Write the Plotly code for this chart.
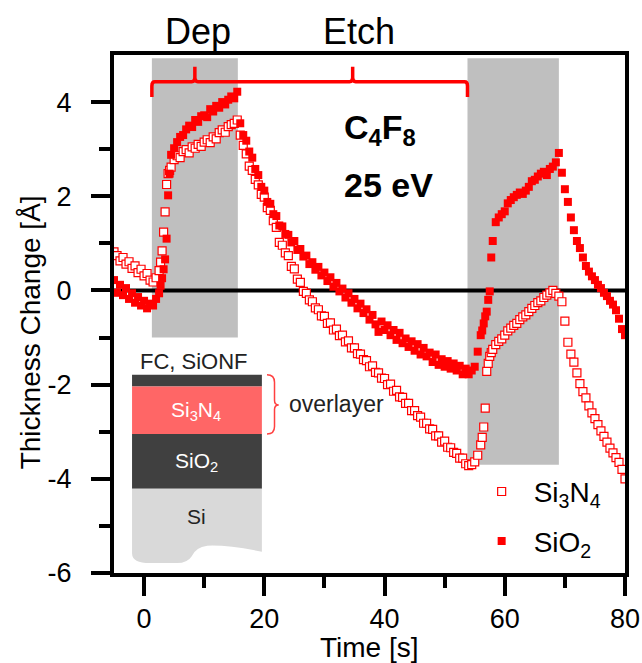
import plotly.graph_objects as go

# ---- measured thickness change vs. time (C4F8, 25 eV ALE cycle) ----
time_s = [
    -5.0, -4.5, -4.0, -3.5, -3.0, -2.5, -2.0, -1.5, -1.0, -0.5, 0.0, 0.5, 1.0,
    1.5, 2.0, 2.5, 2.75, 3.0, 3.25, 3.5, 3.75, 4.0, 4.25, 4.5, 5.0,
    5.5, 6.0, 6.5, 7.0, 7.5, 8.0, 8.5, 9.0, 9.5, 10.0, 10.5, 11.0, 11.5, 12.0,
    12.5, 13.0, 13.5, 14.0, 14.5, 15.0, 15.5,
    16.0, 16.5, 17.0, 17.5, 18.0, 18.5, 19.0, 19.5, 20.0, 20.5,
    21.0, 21.5, 22.0, 22.5, 23.0, 23.5, 24.0, 24.5, 25.0, 25.5,
    26.0, 26.5, 27.0, 27.5, 28.0, 28.5, 29.0, 29.5, 30.0, 30.5,
    31.0, 31.5, 32.0, 32.5, 33.0, 33.5, 34.0, 34.5, 35.0, 35.5,
    36.0, 36.5, 37.0, 37.5, 38.0, 38.5, 39.0, 39.5, 40.0, 40.5,
    41.0, 41.5, 42.0, 42.5, 43.0, 43.5, 44.0, 44.5, 45.0, 45.5,
    46.0, 46.5, 47.0, 47.5, 48.0, 48.5, 49.0, 49.5, 50.0, 50.5,
    51.0, 51.5, 52.0, 52.5, 53.0, 53.5,
    54.0, 54.5, 55.0, 55.5, 56.0, 56.25, 56.5, 56.75, 57.0, 57.25, 57.5, 57.75,
    58.0, 58.5,
    59.0, 59.5, 60.0, 60.5, 61.0, 61.5, 62.0, 62.5, 63.0, 63.5,
    64.0, 64.5, 65.0, 65.5, 66.0, 66.5, 67.0, 67.5, 68.0, 68.5,
    69.0, 69.5, 70.0, 70.5, 71.0, 71.5, 72.0, 72.5, 73.0, 73.5,
    74.0, 74.5, 75.0, 75.5, 76.0, 76.5, 77.0, 77.5, 78.0, 78.5,
    79.0, 79.5, 80.0,
]

si3n4_change = [
    0.82, 0.74, 0.63, 0.70, 0.56, 0.61, 0.47, 0.52, 0.38, 0.45, 0.31, 0.36, 0.22,
    0.18, 0.27, 0.42, 0.60, 0.84, 1.24, 1.67, 2.25, 2.48, 2.55, 2.62, 2.78,
    2.86, 2.82, 2.95, 2.99, 2.92, 3.05, 3.02, 3.10, 3.06, 3.15, 3.20, 3.14, 3.26, 3.22,
    3.35, 3.41, 3.36, 3.48, 3.52, 3.55, 3.62,
    3.30, 3.08, 2.90, 2.64, 2.55, 2.36, 2.24, 2.04, 1.98, 1.76,
    1.70, 1.48, 1.34, 1.02, 0.96, 0.80, 0.74, 0.51, 0.46, 0.24,
    0.17, -0.02, -0.06, -0.20, -0.24, -0.37, -0.41, -0.54, -0.55, -0.70,
    -0.69, -0.84, -0.82, -0.96, -0.95, -1.09, -1.07, -1.22, -1.22, -1.34,
    -1.35, -1.47, -1.49, -1.62, -1.60, -1.74, -1.75, -1.86, -1.87, -2.00,
    -1.99, -2.14, -2.12, -2.26, -2.27, -2.40, -2.40, -2.55, -2.55, -2.66,
    -2.69, -2.82, -2.82, -2.94, -2.95, -3.09, -3.09, -3.22, -3.20, -3.33,
    -3.34, -3.44, -3.46, -3.56, -3.56, -3.68,
    -3.72, -3.70, -3.64, -3.50, -3.28, -3.12, -2.90, -2.50, -1.72, -1.55, -1.40, -1.32,
    -1.25, -1.15,
    -1.08, -1.03, -0.95, -0.86, -0.80, -0.74, -0.70, -0.62, -0.56, -0.52,
    -0.45, -0.38, -0.32, -0.26, -0.22, -0.15, -0.10, -0.05, 0.00, -0.06,
    -0.12, -0.24, -0.65, -1.10, -1.35, -1.52, -1.75, -1.98, -2.15, -2.28,
    -2.45, -2.60, -2.72, -2.85, -2.98, -3.10, -3.22, -3.35, -3.45, -3.55,
    -3.65, -3.80, -4.00,
]

sio2_change = [
    0.22, -0.05, 0.12, -0.10, 0.05, -0.18, -0.06, -0.26, -0.14, -0.32, -0.22, -0.38, -0.28,
    -0.32, -0.18, -0.06, 0.10, 0.26, 0.45, 0.66, 1.10, 2.02, 2.48, 2.88, 3.02,
    3.15, 3.26, 3.30, 3.42, 3.50, 3.47, 3.62, 3.58, 3.70, 3.72, 3.68, 3.85, 3.80, 3.92,
    3.88, 4.00, 3.95, 4.05, 4.12, 4.08, 4.22,
    3.55, 3.30, 3.18, 2.95, 2.82, 2.58, 2.45, 2.20, 2.12, 1.88,
    1.84, 1.62, 1.58, 1.38, 1.36, 1.20, 1.18, 1.02, 1.05, 0.86,
    0.88, 0.72, 0.74, 0.56, 0.60, 0.44, 0.50, 0.32, 0.38, 0.20,
    0.28, 0.08, 0.16, -0.02, 0.04, -0.15, -0.06, -0.26, -0.18, -0.38,
    -0.28, -0.48, -0.40, -0.62, -0.52, -0.72, -0.88, -0.66, -0.84, -0.74,
    -0.95, -0.84, -1.05, -0.90, -1.12, -1.02, -1.20, -1.08, -1.28, -1.14,
    -1.36, -1.22, -1.40, -1.32, -1.52, -1.36, -1.58, -1.46, -1.62, -1.50,
    -1.66, -1.55, -1.70, -1.60, -1.78, -1.66,
    -1.78, -1.70, -1.62, -1.30, -0.95, -0.85, -0.70, -0.55, -0.45, -0.20, -0.02, 0.70,
    1.05, 1.45,
    1.55, 1.62, 1.68, 1.85, 1.92, 1.98, 2.03, 2.08, 2.05, 2.12,
    2.20, 2.32, 2.35, 2.42, 2.48, 2.52, 2.45, 2.58, 2.63, 2.72,
    2.92, 2.50, 2.15, 1.88, 1.55, 1.28, 1.05, 0.90, 0.70, 0.52,
    0.40, 0.30, 0.22, 0.12, 0.05, -0.05, -0.12, -0.22, -0.30, -0.42,
    -0.60, -0.82, -0.95,
]

series_names = ["Si<sub>3</sub>N<sub>4</sub>", "SiO<sub>2</sub>"]
x_ticks = [0, 20, 40, 60, 80]
x_minor = [10, 30, 50, 70]
y_ticks = [-6, -4, -2, 0, 2, 4]
y_tick_text = ["-6", "-4", "-2", "0", "2", "4"]
y_minor = [-5, -3, -1, 1, 3]

# phase boundaries of the cycle [s]
dep_start, dep_end, etch_end, dep2_end = 1.3, 15.6, 53.8, 69.0

FONT = "Liberation Sans, Arial, sans-serif"
RED = "#ff0000"

fig = go.Figure()
fig.add_trace(go.Scatter(
    x=time_s, y=si3n4_change, mode="markers", name=series_names[0],
    legendgroup="a",
    marker=dict(symbol="square", size=8, color="white",
                line=dict(color=RED, width=1.2)),
))
fig.add_trace(go.Scatter(
    x=time_s, y=sio2_change, mode="markers", name=series_names[1],
    legendgroup="b",
    marker=dict(symbol="square", size=8, color=RED, line=dict(width=0)),
))

shapes = []
# shaded deposition windows
shapes.append(dict(type="rect", xref="x", yref="y", x0=dep_start, x1=dep_end,
                   y0=-1.0, y1=4.93, fillcolor="#bfbfbf", line=dict(width=0),
                   layer="below"))
shapes.append(dict(type="rect", xref="x", yref="y", x0=etch_end, x1=dep2_end,
                   y0=-3.7, y1=4.93, fillcolor="#bfbfbf", line=dict(width=0),
                   layer="below"))
# zero reference line
shapes.append(dict(type="line", xref="x", yref="y", x0=-5, x1=80, y0=0, y1=0,
                   line=dict(color="black", width=4), layer="below"))

# brace over one Dep + Etch cycle
mid_dep = (dep_start + dep_end) / 2
mid_etch = (dep_end + etch_end) / 2
yb, yh, yt = 4.43, 4.11, 4.75
rx, ry = 0.5, 0.09
brace = (
    f"M {dep_start},{yh} L {dep_start},{yb - ry} Q {dep_start},{yb} {dep_start + rx},{yb} "
    f"L {mid_dep - rx},{yb} Q {mid_dep},{yb} {mid_dep},{yb + ry} L {mid_dep},{yt} "
    f"L {mid_dep},{yb + ry} Q {mid_dep},{yb} {mid_dep + rx},{yb} "
    f"L {mid_etch - rx},{yb} Q {mid_etch},{yb} {mid_etch},{yb + ry} L {mid_etch},{yt} "
    f"L {mid_etch},{yb + ry} Q {mid_etch},{yb} {mid_etch + rx},{yb} "
    f"L {etch_end - rx},{yb} Q {etch_end},{yb} {etch_end},{yb - ry} L {etch_end},{yh}"
)
shapes.append(dict(type="path", xref="x", yref="y", path=brace,
                   line=dict(color=RED, width=3.5), fillcolor="rgba(0,0,0,0)",
                   layer="above"))

# film-stack sketch
sx0, sx1 = -2.0, 19.6
layers = [(-1.79, -2.04, "#404040"), (-2.04, -3.05, "#ff6666"),
          (-3.05, -4.21, "#404040")]
for top, bot, col in layers:
    shapes.append(dict(type="rect", xref="x", yref="y", x0=sx0, x1=sx1,
                       y0=bot, y1=top, fillcolor=col, line=dict(width=0),
                       layer="above"))
si_path = (
    f"M {sx0},-4.21 L {sx1},-4.21 L {sx1},-5.55 Q 14,-5.40 10.5,-5.42 "
    f"Q 8.6,-5.45 7.9,-5.65 Q 7.2,-5.79 5.5,-5.79 L 1,-5.79 "
    f"Q {sx0},-5.79 {sx0},-5.58 Z"
)
shapes.append(dict(type="path", xref="x", yref="y", path=si_path,
                   fillcolor="#d9d9d9", line=dict(width=0), layer="above"))
ov = (
    "M 20.45,-1.79 Q 21.7,-1.79 21.7,-1.95 L 21.7,-2.33 Q 21.7,-2.43 22.4,-2.43 "
    "Q 21.7,-2.43 21.7,-2.53 L 21.7,-2.89 Q 21.7,-3.05 20.45,-3.05"
)
shapes.append(dict(type="path", xref="x", yref="y", path=ov,
                   line=dict(color="#ff4040", width=1.5),
                   fillcolor="rgba(0,0,0,0)", layer="above"))


def note(text, x, y, size, color="black", xref="x", yref="y",
         xanchor="center", yanchor="middle", **kw):
    return dict(text=text, x=x, y=y, xref=xref, yref=yref, xanchor=xanchor,
                yanchor=yanchor, showarrow=False,
                font=dict(size=size, family=FONT, color=color), **kw)


annotations = [
    note("Dep", mid_dep + 0.5, 1.046, 36, yref="paper"),
    note("Etch", mid_etch + 1.0, 1.046, 36, yref="paper"),
    note("<b>C<sub>4</sub>F<sub>8</sub></b>", 33.0, 3.42, 34, xanchor="left"),
    note("<b>25 eV</b>", 33.0, 2.24, 34, xanchor="left"),
    note("FC, SiONF", 8.35, -1.51, 22, color="#222222"),
    note("Si<sub>3</sub>N<sub>4</sub>", 8.7, -2.55, 21, color="white"),
    note("SiO<sub>2</sub>", 8.7, -3.65, 21, color="white"),
    note("Si", 8.7, -4.79, 21, color="#222222"),
    note("overlayer", 23.8, -2.41, 23, color="#222222", xanchor="left"),
    note("Time [s]", 0.5, -0.143, 28, xref="paper", yref="paper"),
    note("Thickness Change [Å]", -0.164, 0.465, 28, xref="paper",
         yref="paper", textangle=-90),
]

axis_common = dict(
    showgrid=False, zeroline=False, showline=True, linecolor="black",
    linewidth=4, mirror=True, ticks="outside", ticklen=19, tickwidth=4,
    tickcolor="black", tickfont=dict(size=27, family=FONT, color="black"),
    automargin=False,
)

fig.update_layout(
    width=642, height=663,
    margin=dict(l=114, r=17, t=55, b=90, autoexpand=False),
    paper_bgcolor="white", plot_bgcolor="white",
    xaxis=dict(range=[-5, 80], tickvals=x_ticks, ticklabelstandoff=0,
               minor=dict(tickvals=x_minor, ticks="outside", ticklen=11,
                          tickwidth=4, tickcolor="black", showgrid=False),
               **axis_common),
    yaxis=dict(range=[-6, 5], tickvals=y_ticks, ticktext=y_tick_text,
               ticklabelstandoff=14,
               minor=dict(tickvals=y_minor, ticks="outside", ticklen=11,
                          tickwidth=4, tickcolor="black", showgrid=False),
               **axis_common),
    shapes=shapes,
    annotations=annotations,
    showlegend=True,
    legend=dict(x=0.696, y=0.205, xanchor="left", yanchor="top",
                font=dict(size=28, family=FONT, color="black"),
                bgcolor="rgba(0,0,0,0)", tracegroupgap=10, itemwidth=54),
)

fig.write_html("out.html")
